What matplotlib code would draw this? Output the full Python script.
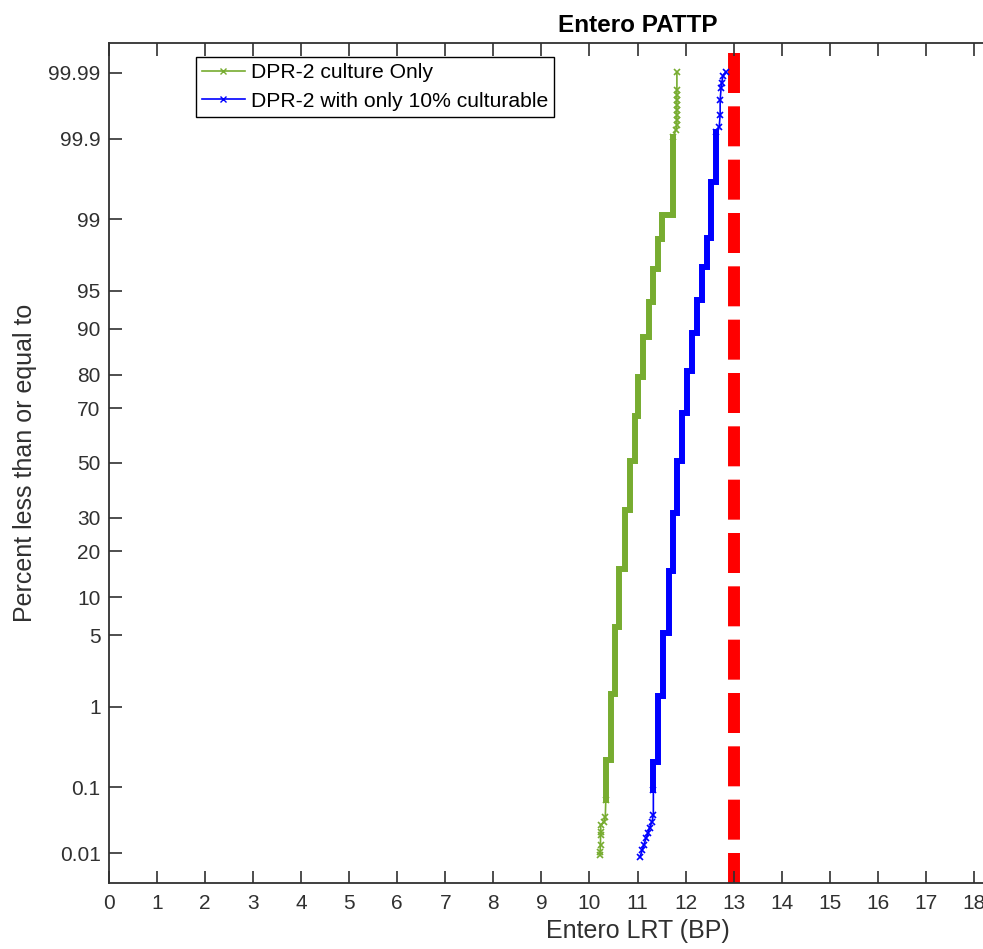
import numpy as np
import matplotlib
matplotlib.use("Agg")
import matplotlib.pyplot as plt
from matplotlib.lines import Line2D
from matplotlib.ticker import FixedLocator, NullLocator, FixedFormatter
from statistics import NormalDist

# ---------------- data ----------------
pct_ticks = [0.01, 0.1, 1, 5, 10, 20, 30, 50, 70, 80, 90, 95, 99, 99.9, 99.99]
pct_labels = ["0.01", "0.1", "1", "5", "10", "20", "30", "50", "70", "80",
              "90", "95", "99", "99.9", "99.99"]
x_ticks = list(range(0, 23))
threshold = 13.0

# Green: "DPR-2 culture Only" -- discrete values and cumulative % at top of each step
green_steps_x = [10.34, 10.45, 10.54, 10.62, 10.73, 10.85, 10.94, 11.02, 11.12,
                 11.24, 11.33, 11.42, 11.51, 11.74]
green_steps_top = [0.23, 1.38, 5.9, 15.6, 32.7, 50.8, 67.3, 79.4, 88.5,
                   93.8, 96.8, 98.37, 99.10, 99.906]
green_core_start = 0.0655
green_tail_lo_x = [10.22, 10.22, 10.23, 10.23, 10.24, 10.23, 10.30, 10.33, 10.34]
green_tail_lo_p = [0.0093, 0.0104, 0.0135, 0.0195, 0.0217, 0.0278, 0.031, 0.0368, 0.0655]
green_tail_hi_x = [11.74, 11.80, 11.82, 11.82, 11.82, 11.82, 11.82, 11.82, 11.82, 11.82, 11.82]
green_tail_hi_p = [99.906, 99.925, 99.937, 99.946, 99.955, 99.962, 99.968, 99.9731,
                   99.9775, 99.9813, 99.9904]

# Blue: "DPR-2 with only 10% culturable"
blue_steps_x = [11.33, 11.43, 11.53, 11.65, 11.74, 11.82, 11.92, 12.03, 12.13,
                12.23, 12.34, 12.45, 12.54, 12.63]
blue_steps_top = [0.218, 1.31, 5.25, 15.15, 31.7, 50.8, 68.3, 81.0, 89.2,
                  94.0, 96.9, 98.41, 99.63, 99.920]
blue_core_start = 0.091
blue_tail_lo_x = [11.05, 11.10, 11.13, 11.18, 11.22, 11.25, 11.30, 11.33, 11.33]
blue_tail_lo_p = [0.0086, 0.0112, 0.0135, 0.0174, 0.0209, 0.0251, 0.031, 0.0394, 0.091]
blue_tail_hi_x = [12.63, 12.70, 12.72, 12.72, 12.74, 12.75, 12.78, 12.84]
blue_tail_hi_p = [99.920, 99.932, 99.955, 99.973, 99.9826, 99.9855, 99.9888, 99.9904]

legend_labels = ["DPR-2 culture Only", "DPR-2 with only 10% culturable"]
green_color = "#77AC30"
blue_color = "#0000FF"
red_color = "#FF0000"

# ---------------- normal probability scale ----------------
_nd = NormalDist()


def _ppf1(p):
    if p != p:
        return float("nan")
    q = min(max(p / 100.0, 1e-15), 1 - 1e-15)
    return _nd.inv_cdf(q)


def _cdf1(z):
    if z != z:
        return float("nan")
    return 100.0 * _nd.cdf(z)


_ppf = np.vectorize(_ppf1, otypes=[float])
_cdf = np.vectorize(_cdf1, otypes=[float])


def fwd(p):
    return _ppf(np.asarray(p, dtype=float))


def inv(z):
    return _cdf(np.asarray(z, dtype=float))


def step_path(xs, tops, start):
    px, py = [], []
    prev = start
    for x, t in zip(xs, tops):
        px += [x, x]
        py += [prev, t]
        prev = t
    return px, py


plt.rcParams["font.family"] = ["Liberation Sans", "DejaVu Sans"]
plt.rcParams["lines.scale_dashes"] = False
axcol = "#303030"

fig = plt.figure(figsize=(9.83, 9.49), dpi=100)
ax = fig.add_axes([109 / 983, (949 - 883) / 949, (1166 - 109) / 983, 840 / 949])
ax.set_yscale("function", functions=(fwd, inv))

# red threshold line (drawn top -> bottom)
ylo, yhi = float(inv(-4.005)), float(inv(4.005))
ax.plot([threshold, threshold], [yhi, ylo], color=red_color, lw=8.6,
        linestyle=(31.2, (28.8, 9.6)), zorder=1)

for sx, st, s0, tlx, tlp, thx, thp, col in [
    (green_steps_x, green_steps_top, green_core_start, green_tail_lo_x, green_tail_lo_p,
     green_tail_hi_x, green_tail_hi_p, green_color),
    (blue_steps_x, blue_steps_top, blue_core_start, blue_tail_lo_x, blue_tail_lo_p,
     blue_tail_hi_x, blue_tail_hi_p, blue_color),
]:
    cx, cy = step_path(sx, st, s0)
    ax.plot(cx, cy, color=col, lw=4.3, solid_joinstyle="miter", zorder=3)
    ax.plot(tlx, tlp, color=col, lw=1.2, marker="x", ms=4, mew=1.2, zorder=3)
    ax.plot(thx, thp, color=col, lw=1.2, marker="x", ms=4, mew=1.2, zorder=3)

ax.set_xlim(0, 22)
ax.set_ylim(ylo, yhi)
ax.xaxis.set_major_locator(FixedLocator(x_ticks))
ax.xaxis.set_minor_locator(NullLocator())
ax.set_xticklabels([str(v) for v in x_ticks])
ax.yaxis.set_major_locator(FixedLocator(pct_ticks))
ax.yaxis.set_major_formatter(FixedFormatter(pct_labels))
ax.yaxis.set_minor_locator(NullLocator())

ax.tick_params(axis="both", direction="in", length=9, width=1.2, colors=axcol,
               labelsize=15, top=True, right=True)
ax.tick_params(axis="x", pad=8)
ax.tick_params(axis="y", pad=6)
for sp in ax.spines.values():
    sp.set_color(axcol)
    sp.set_linewidth(1.3)

ax.set_xlabel("Entero LRT (BP)", fontsize=18, color=axcol, labelpad=4)
ax.set_ylabel("Percent less than or equal to", fontsize=18, color=axcol, labelpad=8)
ax.set_title("Entero PATTP", fontsize=17.5, fontweight="bold", color="black", pad=8)

handles = [Line2D([], [], color=green_color, lw=1.2, marker="x", ms=4),
           Line2D([], [], color=blue_color, lw=1.2, marker="x", ms=4)]
leg = ax.legend(handles, legend_labels, loc="upper left",
                bbox_to_anchor=(196 / 983, 1 - 57 / 949), bbox_transform=fig.transFigure,
                borderaxespad=0, fontsize=15.2, handlelength=2.0, handletextpad=0.3,
                borderpad=0.3, labelspacing=0.45, numpoints=1, fancybox=False,
                framealpha=1, edgecolor="black")
leg.get_frame().set_linewidth(1.0)

fig.savefig("out.png", dpi=100)
